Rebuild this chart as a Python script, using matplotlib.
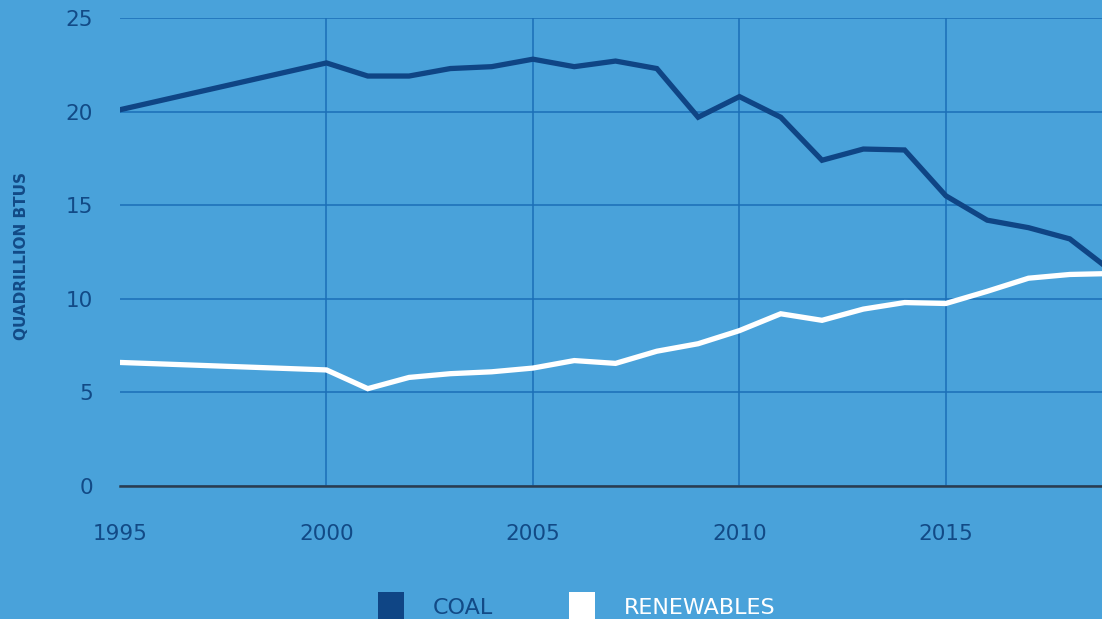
import matplotlib
matplotlib.use("Agg")
import matplotlib.pyplot as plt
from matplotlib.patches import Rectangle

# US energy consumption, quadrillion Btus
coal_years = [1995, 2000, 2001, 2002, 2003, 2004, 2005, 2006, 2007, 2008, 2009,
              2010, 2011, 2012, 2013, 2014, 2015, 2016, 2017, 2018, 2019]
coal = [20.1, 22.6, 21.9, 21.9, 22.3, 22.4, 22.8, 22.4, 22.7, 22.3, 19.7,
        20.8, 19.7, 17.4, 18.0, 17.95, 15.5, 14.2, 13.8, 13.2, 11.5]
renew_years = coal_years
renewables = [6.6, 6.2, 5.2, 5.8, 6.0, 6.1, 6.3, 6.7, 6.55, 7.2, 7.6,
              8.3, 9.2, 8.85, 9.45, 9.8, 9.75, 10.4, 11.1, 11.3, 11.35]

x_ticks = [1995, 2000, 2005, 2010, 2015]
y_ticks = [0, 5, 10, 15, 20, 25]
series_names = ["COAL", "RENEWABLES"]

BG = "#49a2da"
GRID = "#1b6fb8"
DARK = "#0f4585"
LABEL = "#124a86"

plt.rcParams["font.family"] = ["DejaVu Sans"]

fig = plt.figure(figsize=(11.02, 6.19), dpi=100, facecolor=BG)
ax = fig.add_axes([120 / 1102, (619 - 486) / 619, (1102 - 120) / 1102, (486 - 18) / 619])
ax.set_facecolor(BG)

ax.plot(coal_years, coal, color=DARK, lw=3.8, solid_joinstyle="miter", zorder=3)
ax.plot(renew_years, renewables, color="white", lw=3.8, solid_joinstyle="miter", zorder=3)

ax.set_xlim(1995, 2018.78)
ax.set_ylim(0, 25)
ax.set_xticks(x_ticks)
ax.set_yticks(y_ticks)
ax.grid(True, color=GRID, lw=1.1)
ax.xaxis.get_gridlines()[0].set_visible(False)  # no line at the left edge
ax.set_axisbelow(True)
ax.axhline(0, color="#2b3c4f", lw=1.8, zorder=2, clip_on=False)
for s in ax.spines.values():
    s.set_visible(False)
ax.tick_params(length=0, labelcolor=LABEL, labelsize=15.5)
ax.tick_params(axis="x", pad=27)
ax.tick_params(axis="y", pad=19.5)

fig.text(22 / 1102, 1 - 256 / 619, "QUADRILLION BTUS", rotation=90, color=LABEL,
         fontsize=11, fontweight="bold", ha="center", va="center")

# legend squares along the bottom
W, H = 1102, 619
legend_items = [(378, DARK, LABEL), (569, "white", "white")]
for (px, fc, tc), name in zip(legend_items, series_names):
    fig.add_artist(Rectangle((px / W, 0), 26 / W, 27 / H, transform=fig.transFigure,
                             facecolor=fc, edgecolor="none"))
    fig.text((px + 55) / W, 1 - 608 / H, name, color=tc,
             fontsize=16, ha="left", va="center")

fig.savefig("out.png", dpi=100, facecolor=BG)
